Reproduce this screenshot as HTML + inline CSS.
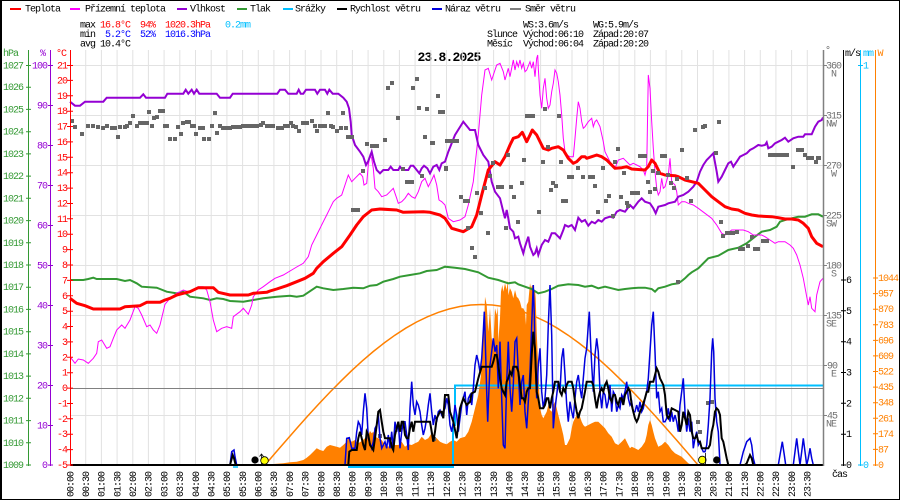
<!DOCTYPE html>
<html><head><meta charset="utf-8"><style>
html,body{margin:0;padding:0;background:#fff;}
svg{display:block;}
text{font-family:"Liberation Mono",monospace;font-size:10px;letter-spacing:-1px;}
</style></head><body>
<svg width="900" height="500" viewBox="0 0 900 500" xmlns="http://www.w3.org/2000/svg">
<rect x="0" y="0" width="900" height="500" fill="#fff"/>
<rect x="0.5" y="0.5" width="899" height="499" fill="none" stroke="#000" stroke-width="1"/>
<line x1="1" y1="0" x2="1" y2="500" stroke="#000" stroke-width="2"/>

<!-- legend -->
<g stroke-width="2">
<line x1="10" y1="9" x2="21" y2="9" stroke="#ff0000"/>
<line x1="70" y1="9" x2="80" y2="9" stroke="#ff00ff"/>
<line x1="177" y1="9" x2="187" y2="9" stroke="#9400d3"/>
<line x1="237" y1="9" x2="247" y2="9" stroke="#339933"/>
<line x1="283" y1="9" x2="293" y2="9" stroke="#00bfff"/>
<line x1="337" y1="9" x2="347" y2="9" stroke="#000"/>
<line x1="432" y1="9" x2="442" y2="9" stroke="#0000dd"/>
<line x1="510" y1="9" x2="521" y2="9" stroke="#808080"/>
</g>
<g fill="#000">
<text x="25" y="11.5">Teplota</text>
<text x="85" y="11.5">Přízemní teplota</text>
<text x="190" y="11.5">Vlhkost</text>
<text x="250" y="11.5">Tlak</text>
<text x="295" y="11.5">Srážky</text>
<text x="350" y="11.5">Rychlost větru</text>
<text x="445" y="11.5">Náraz větru</text>
<text x="525" y="11.5">Směr větru</text>
</g>

<!-- stats -->
<text x="80" y="27.5">max</text>
<text x="100" y="27.5" fill="#ff0000">16.8°C</text>
<text x="140" y="27.5" fill="#ff0000">94%</text>
<text x="165" y="27.5" fill="#ff0000">1020.3hPa</text>
<text x="225" y="27.5" fill="#00bfff">0.2mm</text>
<text x="80" y="37">min</text>
<text x="105" y="37" fill="#0000ff">5.2°C</text>
<text x="140" y="37" fill="#0000ff">52%</text>
<text x="165" y="37" fill="#0000ff">1016.3hPa</text>
<text x="80" y="46.5">avg</text>
<text x="100" y="46.5">10.4°C</text>

<text x="523" y="27.5">WS:3.6m/s</text>
<text x="593" y="27.5">WG:5.9m/s</text>
<text x="487" y="37">Slunce</text>
<text x="523" y="37">Východ:06:10</text>
<text x="593" y="37">Západ:20:07</text>
<text x="487" y="46.5">Měsíc</text>
<text x="523" y="46.5">Východ:06:04</text>
<text x="593" y="46.5">Západ:20:20</text>

<text x="449" y="61" text-anchor="middle" style="font-size:13px;font-weight:bold;letter-spacing:-0.8px">23.8.2025</text>

<!-- grid -->
<g stroke="#e2e2e2" stroke-width="1">
<path d="M85.7 50V465M101.4 50V465M117.1 50V465M132.8 50V465M148.4 50V465M164.1 50V465M179.8 50V465M195.5 50V465M211.2 50V465M226.9 50V465M242.6 50V465M258.3 50V465M273.9 50V465M289.6 50V465M305.3 50V465M321 50V465M336.7 50V465M352.4 50V465M368.1 50V465M383.8 50V465M399.4 50V465M415.1 50V465M430.8 50V465M446.5 50V465M462.2 50V465M477.9 50V465M493.6 50V465M509.3 50V465M524.9 50V465M540.6 50V465M556.3 50V465M572 50V465M587.7 50V465M603.4 50V465M619.1 50V465M634.8 50V465M650.4 50V465M666.1 50V465M681.8 50V465M697.5 50V465M713.2 50V465M728.9 50V465M744.6 50V465M760.3 50V465M775.9 50V465M791.6 50V465M807.3 50V465"/>
<path d="M70 65.5H823M70 115.5H823M70 165.5H823M70 215.5H823M70 265.5H823M70 315.5H823M70 365.5H823M70 415.5H823"/>
</g>

<!-- solar radiation fill -->
<polygon fill="#ff8000" points="265,465 270,464.3 283.3,463.3 290,462.3 296.7,461.7 303.3,460 306.7,457.7 310,455 313.3,451.7 316.7,448.3 320,450 323.3,451 326.7,446.7 330,445 336.7,446.7 340,447.7 343.3,445 346.7,441.7 348.3,437.7 351.7,441.7 355,440 358.3,443.3 361.7,441 365,438.3 368.3,435 370,431 371.7,433.3 373.3,431.7 375,436.7 378.3,438.3 381.7,440 385,445 388.3,446.7 391.7,441.7 395,445 398.3,445 401.7,441.7 405,446.7 408.3,444.3 411.7,445 415,443.3 418.3,441.7 421.7,436.7 425,440 428.3,438.3 431.7,433.3 435,436.7 436.7,438.3 440,441.7 443.3,443.3 446.7,444.3 450,441.7 453.3,440 456.7,441.7 460,438.3 465,436.7 468.3,431.7 471.7,421.7 475,408.3 478.3,395 481,375 482.3,351.7 484.3,318.3 485,296.7 486.7,305 488.3,331.7 490,308.3 491.7,338.3 493.3,345 495,308.3 496.7,315 497.7,306.7 498.3,341.7 500,318.3 501,291.7 502.3,285 503.3,291.7 505,283.3 506.7,290 507.7,280 508.3,295 510,288.3 511.7,291.7 513.3,298.3 515,290 516.7,296.7 518.3,298.3 520,301.7 521.7,308.3 523.3,308.3 525,311.7 526,325 526.7,305 528.3,301.7 530,283.3 531,288.3 532.3,285 533.3,291.7 535,290 535.7,298.3 536.7,331.7 538.3,368.3 540,408.3 541.7,415 543.3,418.3 545,415 546.7,411.7 548.3,405 550,410 551.7,411.7 553.3,405 555,401.7 556.7,408.3 558.3,415 560,421.7 561.7,428.3 563.3,435 565,445 566.7,445 568.3,441.7 570,438.3 571.7,428.3 573.3,421.7 575,418.3 576.7,415 578.3,411.7 580,416.7 581.7,421.7 583.3,425 585,426.7 588.3,425 591.7,423.3 595,421.7 598.3,421.7 601.7,425 605,428.3 608.3,433.3 611.7,436.7 615,443.3 618.3,445 621.7,441.7 625,438.3 628.3,445 630,448.3 631.7,446.7 635,448.3 638.3,450 641.7,446.7 645,441.7 646.7,435 648.3,425 650,420 651.7,425 653.3,431.7 655,438.3 658.3,446.7 661.7,445 665,441.7 668.3,445 671.7,450 675,453.3 678.3,455 681.7,456.7 685,460 688.3,463.3 692,465"/>

<!-- theoretical solar curve -->
<polyline fill="none" stroke="#ff8000" stroke-width="1.5" points="265,465 275.8,452.4 286.7,439.9 297.5,427.5 308.3,415.4 319.1,403.6 330,392.1 340.8,381.2 351.6,370.7 362.4,360.8 373.3,351.5 384.1,343 394.9,335.2 405.7,328.2 416.6,322 427.4,316.8 438.2,312.4 449,309 459.9,306.5 470.7,305 481.5,304.5 492.3,305 503.2,306.5 514,309 524.8,312.4 535.6,316.8 546.5,322 557.3,328.2 568.1,335.2 578.9,343 589.8,351.5 600.6,360.8 611.4,370.7 622.2,381.2 633.1,392.1 643.9,403.6 654.7,415.4 665.5,427.5 676.4,439.9 687.2,452.4 698,465 728,465"/>

<!-- zero line -->
<line x1="70" y1="388.5" x2="823" y2="388.5" stroke="#808080" stroke-width="1"/>

<!-- precipitation -->
<polyline fill="none" stroke="#00bfff" stroke-width="1.5" points="233,467 238,467"/>
<polyline fill="none" stroke="#00bfff" stroke-width="2" points="348,467 453,467 453,425 455,425 455,385.5 823,385.5"/>

<!-- pressure -->
<polyline fill="none" stroke="#339933" stroke-width="2" points="70,280 83.3,280 88.3,279 93.3,277.7 96.7,279 116.7,279 125,281 130,280 136.7,283.3 141.7,286.7 156.7,287.7 160,289 166.7,291.7 176.7,293.3 183.3,291.7 190,296.7 203.3,298.3 210,300 216.7,298.3 223.3,299 230,301 243.3,301.7 253.3,300 263.3,298.3 276.7,296.7 290,295.7 296.7,296.7 303.3,295.7 316.7,286.7 323.3,288.3 333.3,290 343.3,289 353.3,287.7 363.3,288.3 370,285.7 376.7,285 383.3,281.7 393.3,279 400,276.7 410,275 420,273.3 426.7,271 436.7,270 445,266.7 455,267.7 465,269 478.3,272.3 488.3,277.7 498.3,280 508.3,283.3 515,282.3 518.3,284.3 525,286.7 531.7,289 538.3,293.3 545,291.7 551.7,289 558.3,285.7 568.3,284.3 578.3,285 585,286.7 591.7,285.7 598.3,288.3 605,286.7 611.7,288.3 618.3,290 625,289 631.7,288.3 638.3,287.7 645,287.7 651.7,289 655,291.7 658.3,288.3 665,286.7 671.7,284.3 678.3,283.3 681.7,281 685,278.3 688.3,275 691.7,272.3 698.3,268.3 708.3,258.3 718.3,255.7 728.3,250 738.3,247.7 746.7,243.3 755,236.7 761.7,231.7 770,230 776.7,226.7 780,221.7 785,220 791.7,218.3 798.3,216.7 805,216.7 811.7,214.3 818.3,214.3 823,216.7"/>

<!-- ground temperature -->
<polyline fill="none" stroke="#ff00ff" stroke-width="1" points="70,356.7 75,363.3 78.3,359 83.3,360 88.3,363.3 93.3,358.3 96.7,353.3 98.3,341.7 101.7,340 106.7,348.3 110,346.7 113.3,338.3 116.7,330 121.7,325 125,328.3 130,320 135,306.7 138.3,308.3 141.7,315 146.7,326.7 150,325 153.3,330 156.7,333.3 160,325 165,304.3 170,298.3 176.7,293.3 183.3,290 188.3,291.7 193.3,290 198.3,286.7 203.3,286.7 206.7,290 210,301.7 213.3,320 216.7,331.7 221.7,328.3 226.7,326.7 231.7,328.3 233.3,316.7 240,311.7 243.3,308.3 248.3,314.3 251.7,305 253.3,296.7 258.3,290 263.3,286.7 270,281.7 275,278.3 283.3,275 291.7,270 296.7,267 303.3,263.3 308.3,256.7 311.7,245 316.7,235 323.3,221.7 326.7,215 330,208.3 333.3,201.7 336.7,198.3 341.7,195 345,185 348.3,175 351.7,181.7 355,178.3 360,173.3 362.7,176.7 364,185 366.7,183.3 368.3,165 370,155 371.7,158.3 373.3,168.3 375,188.3 378.3,191.7 381.7,196.7 386.7,195 390,191.7 393.3,188.3 396.7,198.3 398.3,203.3 401.7,201.7 405,198.3 408.3,193.3 411.7,196.7 415,198.3 418.3,191.7 421.7,181.7 425,178.3 428.3,186.7 431.7,180 434,175 436.7,185 439,200 441.7,201.7 445,205 448.3,218.3 453.3,221.7 460,220 465,216.7 468.3,205 473.3,181.7 478.3,135 481.7,95 485,70 488.3,68.3 491.7,80 495,70 496.7,65 500,63.3 503.3,71.7 505,80 508.3,68.3 510,76.7 513.3,60 515,70 516.7,61.7 518.3,66.7 520,60 521.7,68.3 523.3,63.3 525,71.7 526.7,70 530,61.7 531.7,68.3 533.3,61.7 535,76.7 536.7,58.3 537.7,55 538.3,68.3 540,95 541.7,108.3 543.3,88.3 545,78.3 546.7,98.3 548.3,108.3 550,105 551.7,91.7 553.3,83.3 555,70 556.7,73.3 558.3,81.7 560,95 561.7,115 563.3,138.3 565,151.7 566.7,155 570,156.7 573.3,156.7 575,138.3 576.7,118.3 578.3,101.7 580,108.3 581.7,121.7 583.3,128.3 585,126.7 588.3,121.7 591.7,118.3 593.3,126.7 595,121.7 596.7,120 598.3,123.3 600,126.7 603.3,141.7 605,151.7 608.3,158.3 611.7,165 615,168.3 618.3,160 623.3,158.3 626.7,161.7 630,165 633.3,163.3 636.7,165 640,166.7 643.3,170 645,175 646.7,168.3 648.3,75 650,88.3 651.7,121.7 653.3,148.3 655,171.7 656.7,188.3 658.3,195 660,191.7 661.7,178.3 663.3,188.3 665,186.7 668.3,175 670,158.3 671.7,181.7 675,185 676.7,191.7 678.3,205 681.7,201.7 685,201.7 688.3,203.3 693.3,205 698.3,208.3 705,213.3 711.7,218.3 716.7,225 721.7,233.3 725,235 731.7,230 738.3,230 743.3,230 748.3,231.7 753.3,235 761.7,235 765,236.7 770,240 775,243.3 778.3,241.7 785,241.7 790,245 793.3,248.3 796.7,255 800,265 803.3,278.3 806.7,296.7 808.3,305 810,296.7 811.7,308.3 815,311.7 816.7,295 820,281.7 823,278.3"/>

<!-- humidity -->
<polyline fill="none" stroke="#9400d3" stroke-width="2" points="70,101.7 75,105.7 80,105.7 85,101.7 103.3,101.7 106.7,97.7 140,97.7 143.3,94.3 146,97.7 165,97.7 167.3,93.7 183.3,93.7 185.7,89.7 188.3,93.7 191.7,89.7 194,93.7 196.7,89.7 199.3,93.7 216.7,93.7 220,97.7 230,97.7 232.7,93.7 277.3,93.7 280,89.7 285,89.7 288.3,93.7 296.7,93.7 298.7,89.7 300.7,93.7 303.3,93.7 306,89.7 315,89.7 317.3,93.7 320,89.7 325,89.7 327.3,93.7 329.3,89.7 332.7,93.7 338.3,93.7 343.3,97.7 346.7,101.7 349,108.3 350.7,121.7 351.7,135 355,145 360,151.7 363.3,156.7 366,165 368.3,161 371.7,151.7 374,161.7 376.7,170 380,173.3 383.3,170 388.3,170 390.7,166.7 393.3,170 398.3,170 400,166.7 402.7,170 408.3,170 410.7,165.7 413.3,165.7 416.7,170 419.3,173.3 421.7,168.3 424,165.7 427.3,168.3 430,173.3 433.3,166.7 436.7,165 439.3,170 441.7,163.3 445,161.7 448.3,151.7 455,135 463.3,121.7 470,130 475,130 478.3,145 483.3,155 488.3,161.7 491.7,181.7 495,191.7 500,198.3 503.3,211.7 505,218.3 506.7,210 508.3,218.3 510,228.3 513.3,231.7 515,238.3 518.3,236.7 520,243.3 523.3,253.3 525,246.7 528.3,236.7 530,246.7 533.3,255 535,253.3 536.7,248.3 538.3,255 541.7,245 545,240 548.3,241.7 551.7,233.3 555,233.3 560,238.3 563.3,230 565,225 568.3,226.7 571.7,225 575,230 578.3,217.7 581.7,221.7 585,220 588.3,225.7 591.7,221.7 595,223.3 598.3,220 601.7,221.7 605,218.3 610,216.7 613.3,217.7 616.7,211.7 620,210 625,211.7 630,205 633.3,208.3 638.3,201.7 641.7,198.3 645,201.7 650,203.3 653.3,208.3 655.7,213.3 658.3,206.7 665,205 668.3,203.3 675,201.7 678.3,196.7 683.3,195 688.3,191.7 693.3,186.7 696.7,181.7 700,171.7 703.3,165 706.7,160 710,156.7 713.3,153.3 716.7,171.7 718.3,181.7 721.7,176.7 725,170 728.3,163.3 731,161.7 733.3,166.7 736.7,161.7 740,156.7 743.3,155 746.7,153.3 750,150 753.3,148.3 758.3,145 761.7,145.7 765,145 766.7,142.3 768.3,148.3 771.7,146.7 775,143.3 778.3,141.7 781.7,140 785,137.7 788.3,141.7 793.3,138.3 798.3,136.7 803.3,136.7 805,134.3 811.7,134.3 815,126.7 818.3,121.7 821.7,120 823,117.5"/>

<!-- temperature -->
<polyline fill="none" stroke="#ff0000" stroke-width="3" stroke-linejoin="round" points="70,298.3 76.7,303.3 85,305.7 93.3,309 120,309 125,306.7 140,305.7 146.7,302.3 160,302.3 165,300 170,298.3 176.7,295 183.3,293.3 190,291.7 198.3,287.7 213.3,287.7 218.3,292.3 230,295 248.3,295 253.3,293.3 266.7,292.3 270,291 276.7,289 286.7,285.7 296.7,281.7 305,278.3 313.3,273.3 316.7,268.3 323.3,261.7 333.3,253.3 341.7,246.7 350,235 356.7,225 363.3,216.7 371.7,210 380,209 396.7,210 403.3,212.3 423.3,211.7 430,212.3 440,215 445,218.3 451.7,228.3 463.3,231.7 471.7,226.7 476.7,215 481.7,195 488.3,170 495,161.7 500,165 505,156.7 510,145 513.3,138.3 518.3,136.7 522.3,132.3 526.7,141.7 530,135 532.3,130 536.7,135 543.3,148.3 548.3,150 551.7,148.3 558.3,146.7 563.3,150 568.3,158.3 573.3,163.3 576.7,161.7 581.7,156.7 585,156.7 586.7,158.3 591.7,156.7 596.7,155 601.7,156.7 606.7,160 610,163.3 615,168.3 621.7,167.7 626.7,166.7 631.7,169 645,170 648.3,166.7 651.7,160 655,163.3 660,173.3 665,175 675,175.7 678.3,176.7 685,180 691.7,181.7 698.3,183.3 705,190 711.7,196.7 718.3,201.7 725,206.7 731.7,209 738.3,210 745,213.3 751.7,215 758.3,216 771.7,216.7 778.3,217.7 785,219 791.7,219 798.3,220 803.3,223.3 808.3,228.3 811.7,236.7 816.7,243.3 823,246.7"/>

<!-- wind direction squares -->
<path transform="translate(-2,0)" fill="none" stroke="#666" stroke-width="4" d="M72 121h4M75 127h4M82 134h4M88 126h4M93 126h4M98 127h4M103 128h4M107 126h4M112 128h4M115 128h4M118 137h4M120 127h4M125 127h4M127 126h4M130 123h4M133 116h4M137 126h4M140 123h4M143 123h4M147 123h4M149 112h4M152 126h4M154 118h4M157 117h4M160 111h4M163 111h4M165 126h4M167 126h4M170 139h4M175 139h4M178 127h4M181 134h4M183 123h4M187 122h4M189 122h4M192 126h4M194 126h4M196 134h4M200 128h4M203 128h4M204 139h4M209 139h4M212 126h4M215 113h4M217 133h4M220 126h4M223 128h4M227 128h4M230 128h4M233 127h4M237 127h4M240 127h4M243 126h4M247 126h4M250 126h4M253 126h4M257 126h4M261 125h4M263 123h4M267 126h4M270 126h4M273 126h4M278 128h4M282 128h4M285 126h4M288 126h4M291 123h4M293 126h4M296 127h4M299 131h4M303 123h4M307 123h4M312 121h4M315 126h4M317 131h4M320 126h4M323 126h4M325 126h4M328 113h4M331 126h4M333 127h4M337 131h4M341 128h4M343 113h4M346 128h4M348 137h4M352 137h4M353 210h4M357 210h4M358 210h4M363 171h4M367 144h4M372 146h4M375 146h4M377 146h4M385 140h4M388 88h4M392 83h4M398 118h4M403 169h4M407 182h4M410 182h4M412 182h4M413 88h4M417 79h4M419 108h4M422 176h4M425 137h4M427 109h4M432 143h4M433 143h4M438 96h4M440 112h4M443 112h4M446 169h4M449 141h4M447 141h4M450 141h4M453 141h4M457 141h4M446 168h4M461 197h4M465 201h4M468 201h4M468 228h4M472 248h4M475 257h4M477 193h4M481 213h4M485 188h4M488 233h4M490 176h4M493 163h4M498 187h4M502 187h4M506 228h4M508 155h4M511 187h4M514 197h4M518 222h4M522 183h4M524 160h4M527 116h4M530 116h4M533 116h4M539 212h4M543 162h4M545 109h4M548 147h4M551 190h4M553 183h4M556 186h4M559 116h4M561 162h4M563 201h4M566 201h4M569 177h4M572 177h4M578 168h4M583 177h4M590 177h4M593 177h4M595 186h4M598 212h4M603 168h4M606 201h4M609 196h4M613 216h4M615 162h4M618 149h4M621 197h4M624 173h4M627 203h4M628 206h4M632 193h4M635 193h4M638 193h4M640 156h4M643 156h4M645 156h4M648 182h4M650 192h4M653 171h4M655 189h4M658 173h4M662 156h4M665 156h4M668 175h4M671 183h4M674 188h4M677 179h4M682 150h4M687 178h4M691 201h4M695 130h4M703 127h4M705 126h4M716 153h4M719 122h4M721 222h4M723 236h4M727 233h4M730 233h4M733 233h4M737 232h4M740 249h4M743 249h4M748 246h4M752 237h4M755 249h4M758 249h4M763 241h4M767 241h4M770 155h4M773 155h4M777 155h4M780 155h4M783 155h4M787 155h4M793 167h4M798 150h4M802 150h4M805 155h4M808 158h4M812 158h4M816 162h4M818 158h4M821 158h2M678 282h4M708 403h4M712 402h4M698 422h4M700 432h4M380 436h4M434 439h4"/>

<!-- wind gust -->
<polyline fill="none" stroke="#0000dd" stroke-width="1.5" points="70,465 230,465 231.7,451.7 234,450 235,456.7 236.7,465 345,465 346.7,438.3 349.3,437.7 351.7,448.3 355,448.3 356.7,431.7 358.3,421.7 360,425 361.7,435 363.3,411.7 365,393.3 366.7,408.3 368.3,438.3 371.7,448.3 373.3,441.7 375,428.3 376.7,425 378.3,415 380,438.3 381.7,448.3 385,441.7 386.7,448.3 388.3,435 390,448.3 391.7,431.7 393.3,448.3 395,421.7 396.7,431.7 398.3,421.7 400,448.3 401.7,431.7 403.3,421.7 405,421.7 406.7,435 408.3,450 410,408.3 411.7,381.7 413.3,405 415,415 416.7,401.7 418.3,405 420,411.7 421.7,425 423.3,435 425,428.3 426.7,418.3 428.3,405 430,393.3 431.7,411.7 433.3,425 435,415 436.7,421.7 438.3,411.7 440,410 441.7,415 443.3,411.7 445,408.3 446.7,398.3 448.3,405 450,425 451.7,431.7 453.3,421.7 455,405 456.7,415 458.3,431.7 460,418.3 461.7,405 463.3,398.3 465,391.7 466.7,415 468.3,398.3 470,395 471.7,405 473.3,388.3 475,365 476.7,355 478.3,361.7 480,371.7 481.7,358.3 483.3,331.7 484.3,311.7 485,331.7 486.7,391.7 487.7,421.7 488.3,405 490,365 491.7,351.7 493.3,338.3 495,351.7 496.7,345 498.3,388.3 500,341.7 501.7,398.3 503.3,445 505,448.3 506.7,381.7 508.3,341.7 510,388.3 511.7,411.7 513.3,385 515,341.7 516.7,338.3 518.3,371.7 520,405 521.7,381.7 523.3,375 525,411.7 526.7,428.3 528.3,401.7 530,371.7 531.7,325 532.7,298.3 533.3,285 534.3,315 535,355 536.7,398.3 538.3,365 540,348.3 541.7,391.7 543.3,408.3 545,398.3 546.7,375 548.3,325 550,285 551.7,335 553.3,428.3 555,408.3 556.7,395 558.3,381.7 560,391.7 561.7,358.3 563.3,348.3 565,375 566.7,405 568.3,421.7 570,401.7 571.7,411.7 573.3,418.3 575,398.3 576.7,381.7 578.3,375 580,388.3 581.7,398.3 583.3,378.3 585,358.3 586.7,348.3 588.3,325 589.3,311.7 590.7,345 591.7,365 593.3,391.7 595,355 596.7,338.3 598.3,351.7 600,391.7 601.7,408.3 603.3,391.7 605,395 606.7,408.3 608.3,401.7 610,385 611.7,411.7 613.3,391.7 615,395 616.7,411.7 618.3,405 620,408.3 621.7,395 623.3,398.3 625,391.7 626.7,381.7 628.3,398.3 630,405 631.7,401.7 633.3,411.7 635,411.7 636.7,405 638.3,411.7 640,401.7 641.7,411.7 643.3,408.3 645,398.3 646.7,391.7 648.3,378.3 650,351.7 651.7,325 653.3,311.7 655,351.7 656.7,398.3 658.3,391.7 660,411.7 661.7,408.3 663.3,421.7 665,421.7 666.7,418.3 668.3,408.3 670,421.7 671.7,411.7 673.3,421.7 675,415 676.7,421.7 678.3,431.7 680,405 681.7,391.7 683.3,378.3 685,411.7 686.7,431.7 688.3,418.3 690,431.7 691.7,421.7 693.3,448.3 695,438.3 696.7,431.7 698.3,445 700,441.7 701.7,448.3 703.3,451.7 705,451.7 706.7,445 708.3,425 710,398.3 711.7,351.7 712.7,338.3 713.7,351.7 715,398.3 716.7,421.7 718.3,431.7 720,465 740,465 743.3,451.7 746.7,441.7 750,438.3 751.7,445 753.3,458.3 755,465 778.3,465 780,455 782.3,441.7 784.3,455 785.7,465 793.3,465 795,451.7 796.7,438.3 798.3,451.7 800,465 801.7,451.7 803.3,438.3 805,451.7 806.7,465 808.3,458.3 810,448.3 811.7,458.3 813.3,465 823,465"/>

<!-- wind speed -->
<polyline fill="none" stroke="#000" stroke-width="2" points="70,465 230,465 232.7,455 234,458.3 235.7,465 348.3,465 349.3,451.7 351.7,450 356.7,450 358.3,438.3 360,431.7 361.7,438.3 363.3,445 365,450 366.7,431.7 368.3,435 370,445 373.3,450 375,438.3 376.7,425 378.3,411.7 380,410 381.7,421.7 383.3,431.7 385,438.3 390,438.3 391.7,446.7 393.3,450 395,435 396.7,428.3 398.3,421.7 400,431.7 401.7,421.7 403.3,421.7 405,435 406.7,438.3 408.3,438.3 410,428.3 411.7,421.7 413.3,431.7 415,421.7 430,421.7 431.7,431.7 433.3,441.7 435,431.7 436.7,418.3 440,411.7 441.7,411.7 443.3,418.3 445,395 448.3,395 450,411.7 453.3,421.7 456.7,438.3 460,408.3 463.3,398.3 466.7,405 470,401.7 471.7,393.3 475,391.7 478.3,378.3 481.7,366.7 485,366.7 488.3,366.7 491.7,366.7 493.3,361.7 495,355 496.7,355 498.3,365 500,378.3 501.7,388.3 503.3,391.7 505,395 506.7,381.7 508.3,378.3 510,371.7 511.7,375 513.3,366.7 516.7,366.7 518.3,371.7 520,385 521.7,398.3 523.3,398.3 525,401.7 526.7,391.7 528.3,388.3 530,388.3 531.7,355 533.3,331.7 535,348.3 536.7,391.7 538.3,398.3 540,408.3 543.3,408.3 545,405 546.7,398.3 548.3,398.3 550,408.3 551.7,398.3 553.3,391.7 555,381.7 558.3,381.7 560,391.7 561.7,395 563.3,388.3 565,391.7 566.7,385 568.3,381.7 571.7,381.7 573.3,388.3 575,401.7 576.7,411.7 578.3,418.3 580,411.7 581.7,408.3 585,391.7 586.7,381.7 591.7,381.7 593.3,385 595,398.3 596.7,408.3 598.3,398.3 600,391.7 601.7,388.3 603.3,391.7 605,385 606.7,381.7 608.3,388.3 610,398.3 611.7,401.7 613.3,395 615,395 616.7,401.7 618.3,405 620,398.3 621.7,398.3 623.3,405 625,395 626.7,391.7 628.3,388.3 630,391.7 631.7,405 633.3,411.7 635,418.3 636.7,421.7 638.3,418.3 640,411.7 641.7,408.3 645,398.3 646.7,391.7 648.3,391.7 650,381.7 653.3,381.7 655,375 656.7,368.3 658.3,371.7 660,378.3 661.7,381.7 663.3,385 665,395 666.7,415 668.3,418.3 670,415 671.7,408.3 675,410 678.3,411.7 680,431.7 681.7,425 683.3,411.7 685,418.3 686.7,425 688.3,411.7 690,415 691.7,431.7 693.3,438.3 695,438.3 696.7,435 698.3,441.7 700,441.7 701.7,448.3 708.3,448.3 710,445 711.7,431.7 713.3,425 715,411.7 716.7,408.3 718.3,410 720,415 721.7,438.3 723.3,441.7 725,450 726.7,458.3 728.3,465 745,465 746.7,463.3 750,455 751.7,458.3 753.3,465 823,465"/>

<!-- plot bottom line -->
<line x1="70" y1="465" x2="823" y2="465" stroke="#000" stroke-width="2"/>

<!-- sun / moon markers -->
<circle cx="255" cy="460" r="3.6" fill="#000"/>
<line x1="261.5" y1="454" x2="261.5" y2="465" stroke="#000" stroke-width="0.8"/>
<path d="M259.5 456.5L261.5 454L263.5 456.5" fill="none" stroke="#000" stroke-width="0.8"/>
<circle cx="264.5" cy="460.5" r="3.8" fill="#ffff00" stroke="#000" stroke-width="0.8"/>
<circle cx="702.3" cy="460" r="3.8" fill="#ffff00" stroke="#000" stroke-width="0.8"/>
<line x1="705.5" y1="453" x2="705.5" y2="465" stroke="#000" stroke-width="0.8"/>
<circle cx="716.7" cy="460" r="3.6" fill="#000"/>

<!-- left axes -->
<line x1="28.5" y1="50" x2="28.5" y2="466" stroke="#339933" stroke-width="1"/>
<line x1="50.5" y1="50" x2="50.5" y2="466" stroke="#9400d3" stroke-width="1"/>
<line x1="70.5" y1="50" x2="70.5" y2="466" stroke="#ff0000" stroke-width="1"/>
<text x="3" y="56" fill="#339933">hPa</text>
<text x="40" y="56" fill="#9400d3">%</text>
<text x="56" y="56" fill="#ff0000">°C</text>

<path stroke="#339933" stroke-width="1" d="M26 65.5h5M26 87.2h5M26 109.4h5M26 131.7h5M26 153.9h5M26 176.1h5M26 198.3h5M26 220.6h5M26 242.8h5M26 265h5M26 287.2h5M26 309.4h5M26 331.7h5M26 353.9h5M26 376.1h5M26 398.3h5M26 420.6h5M26 442.8h5M26 465h5"/>
<g fill="#339933">
<text x="3" y="68.5">1027</text><text x="3" y="90.2">1026</text><text x="3" y="112.4">1025</text><text x="3" y="134.7">1024</text><text x="3" y="156.9">1023</text><text x="3" y="179.1">1022</text><text x="3" y="201.3">1021</text><text x="3" y="223.6">1020</text><text x="3" y="245.8">1019</text><text x="3" y="268">1018</text><text x="3" y="290.2">1017</text><text x="3" y="312.4">1016</text><text x="3" y="334.7">1015</text><text x="3" y="356.9">1014</text><text x="3" y="379.1">1013</text><text x="3" y="401.3">1012</text><text x="3" y="423.6">1011</text><text x="3" y="445.8">1010</text><text x="3" y="468">1009</text>
</g>
<path stroke="#9400d3" stroke-width="1" d="M48 65.5h5M48 105.5h5M48 145.5h5M48 185.5h5M48 225.5h5M48 265.5h5M48 305.5h5M48 345.5h5M48 385.5h5M48 425.5h5M48 465h5"/>
<g fill="#9400d3" text-anchor="end">
<text x="47" y="68.5">100</text><text x="47" y="108.5">90</text><text x="47" y="148.5">80</text><text x="47" y="188.5">70</text><text x="47" y="228.5">60</text><text x="47" y="268.5">50</text><text x="47" y="308.5">40</text><text x="47" y="348.5">30</text><text x="47" y="388.5">20</text><text x="47" y="428.5">10</text><text x="47" y="468">0</text>
</g>
<path stroke="#ff0000" stroke-width="1" d="M67 65.5h6M67 80.4h6M67 95.8h6M67 111.2h6M67 126.5h6M67 141.9h6M67 157.3h6M67 172.7h6M67 188.1h6M67 203.5h6M67 218.8h6M67 234.2h6M67 249.6h6M67 265h6M67 280.4h6M67 295.8h6M67 311.2h6M67 326.5h6M67 341.9h6M67 357.3h6M67 372.7h6M67 388.1h6M67 403.5h6M67 418.8h6M67 434.2h6M67 449.6h6M67 465h6"/>
<g fill="#ff0000" text-anchor="end">
<text x="67" y="68.5">21</text><text x="67" y="83.4">20</text><text x="67" y="98.8">19</text><text x="67" y="114.2">18</text><text x="67" y="129.5">17</text><text x="67" y="144.9">16</text><text x="67" y="160.3">15</text><text x="67" y="175.7">14</text><text x="67" y="191.1">13</text><text x="67" y="206.5">12</text><text x="67" y="221.8">11</text><text x="67" y="237.2">10</text><text x="67" y="252.6">9</text><text x="67" y="268">8</text><text x="67" y="283.4">7</text><text x="67" y="298.8">6</text><text x="67" y="314.2">5</text><text x="67" y="329.5">4</text><text x="67" y="344.9">3</text><text x="67" y="360.3">2</text><text x="67" y="375.7">1</text><text x="67" y="391.1">0</text><text x="67" y="406.5">-1</text><text x="67" y="421.8">-2</text><text x="67" y="437.2">-3</text><text x="67" y="452.6">-4</text><text x="67" y="468">-5</text>
</g>

<!-- right axes -->
<line x1="823.5" y1="50" x2="823.5" y2="466" stroke="#808080" stroke-width="1.5"/>
<line x1="843.5" y1="50" x2="843.5" y2="466" stroke="#000" stroke-width="1"/>
<line x1="860.5" y1="50" x2="860.5" y2="466" stroke="#00bfff" stroke-width="1"/>
<line x1="875.5" y1="50" x2="875.5" y2="466" stroke="#ff8000" stroke-width="1"/>
<text x="825" y="53" fill="#606060">°</text>
<text x="845" y="56">m/s</text>
<text x="863" y="56" fill="#00bfff">mm</text>
<text x="877.5" y="56" fill="#ff8000">W</text>

<path stroke="#808080" stroke-width="1" d="M823 65.5h4M823 115.5h4M823 165.5h4M823 215.5h4M823 265.5h4M823 315.5h4M823 365.5h4M823 415.5h4"/>
<g fill="#707070">
<text x="826" y="68.5">360</text><text x="831" y="76.5">N</text>
<text x="826" y="118.5">315</text><text x="826" y="126.5">NW</text>
<text x="826" y="168.5">270</text><text x="831" y="176.5">W</text>
<text x="826" y="218.5">225</text><text x="826" y="226.5">SW</text>
<text x="826" y="268.5">180</text><text x="831" y="276.5">S</text>
<text x="826" y="318.5">135</text><text x="826" y="326.5">SE</text>
<text x="827" y="368.5">90</text><text x="831" y="376.5">E</text>
<text x="827" y="418.5">45</text><text x="826" y="426.5">NE</text>
</g>

<path stroke="#000" stroke-width="1" d="M841 465h5M841 434.2h5M841 403.3h5M841 372.5h5M841 341.7h5M841 310.8h5M841 280h5"/>
<g fill="#000">
<text x="846" y="468">0</text><text x="846" y="437.2">1</text><text x="846" y="406.3">2</text><text x="846" y="375.5">3</text><text x="846" y="344.7">4</text><text x="846" y="313.8">5</text><text x="846" y="283">6</text>
</g>
<path stroke="#00bfff" stroke-width="1" d="M858 65.5h5M858 465h5"/>
<text x="863" y="68.5" fill="#00bfff">1</text>
<text x="863" y="468" fill="#00bfff">0</text>

<path stroke="#ff8000" stroke-width="1" d="M873 465h5M873 449.4h5M873 433.8h5M873 418.3h5M873 402.7h5M873 387.1h5M873 371.5h5M873 355.9h5M873 340.4h5M873 324.8h5M873 309.2h5M873 293.6h5M873 278h5"/>
<g fill="#ff8000">
<text x="878" y="468">0</text><text x="878" y="452.4">87</text><text x="878" y="436.8">174</text><text x="878" y="421.3">261</text><text x="878" y="405.7">348</text><text x="878" y="390.1">435</text><text x="878" y="374.5">522</text><text x="878" y="358.9">609</text><text x="878" y="343.4">696</text><text x="878" y="327.8">783</text><text x="878" y="312.2">870</text><text x="878" y="296.6">957</text><text x="878" y="281">1044</text>
</g>

<text x="832" y="477">čas</text>

<!-- time labels -->
<g fill="#000">
<text transform="translate(73.3,497) rotate(-90)">00:00</text>
<text transform="translate(89,497) rotate(-90)">00:30</text>
<text transform="translate(104.7,497) rotate(-90)">01:00</text>
<text transform="translate(120.4,497) rotate(-90)">01:30</text>
<text transform="translate(136.1,497) rotate(-90)">02:00</text>
<text transform="translate(151.7,497) rotate(-90)">02:30</text>
<text transform="translate(167.4,497) rotate(-90)">03:00</text>
<text transform="translate(183.1,497) rotate(-90)">03:30</text>
<text transform="translate(198.8,497) rotate(-90)">04:00</text>
<text transform="translate(214.5,497) rotate(-90)">04:30</text>
<text transform="translate(230.2,497) rotate(-90)">05:00</text>
<text transform="translate(245.9,497) rotate(-90)">05:30</text>
<text transform="translate(261.6,497) rotate(-90)">06:00</text>
<text transform="translate(277.2,497) rotate(-90)">06:30</text>
<text transform="translate(292.9,497) rotate(-90)">07:00</text>
<text transform="translate(308.6,497) rotate(-90)">07:30</text>
<text transform="translate(324.3,497) rotate(-90)">08:00</text>
<text transform="translate(340,497) rotate(-90)">08:30</text>
<text transform="translate(355.7,497) rotate(-90)">09:00</text>
<text transform="translate(371.4,497) rotate(-90)">09:30</text>
<text transform="translate(387.1,497) rotate(-90)">10:00</text>
<text transform="translate(402.7,497) rotate(-90)">10:30</text>
<text transform="translate(418.4,497) rotate(-90)">11:00</text>
<text transform="translate(434.1,497) rotate(-90)">11:30</text>
<text transform="translate(449.8,497) rotate(-90)">12:00</text>
<text transform="translate(465.5,497) rotate(-90)">12:30</text>
<text transform="translate(481.2,497) rotate(-90)">13:00</text>
<text transform="translate(496.9,497) rotate(-90)">13:30</text>
<text transform="translate(512.6,497) rotate(-90)">14:00</text>
<text transform="translate(528.2,497) rotate(-90)">14:30</text>
<text transform="translate(543.9,497) rotate(-90)">15:00</text>
<text transform="translate(559.6,497) rotate(-90)">15:30</text>
<text transform="translate(575.3,497) rotate(-90)">16:00</text>
<text transform="translate(591,497) rotate(-90)">16:30</text>
<text transform="translate(606.7,497) rotate(-90)">17:00</text>
<text transform="translate(622.4,497) rotate(-90)">17:30</text>
<text transform="translate(638.1,497) rotate(-90)">18:00</text>
<text transform="translate(653.7,497) rotate(-90)">18:30</text>
<text transform="translate(669.4,497) rotate(-90)">19:00</text>
<text transform="translate(685.1,497) rotate(-90)">19:30</text>
<text transform="translate(700.8,497) rotate(-90)">20:00</text>
<text transform="translate(716.5,497) rotate(-90)">20:30</text>
<text transform="translate(732.2,497) rotate(-90)">21:00</text>
<text transform="translate(747.9,497) rotate(-90)">21:30</text>
<text transform="translate(763.6,497) rotate(-90)">22:00</text>
<text transform="translate(779.2,497) rotate(-90)">22:30</text>
<text transform="translate(794.9,497) rotate(-90)">23:00</text>
<text transform="translate(810.6,497) rotate(-90)">23:30</text>
</g>
</svg>
</body></html>
